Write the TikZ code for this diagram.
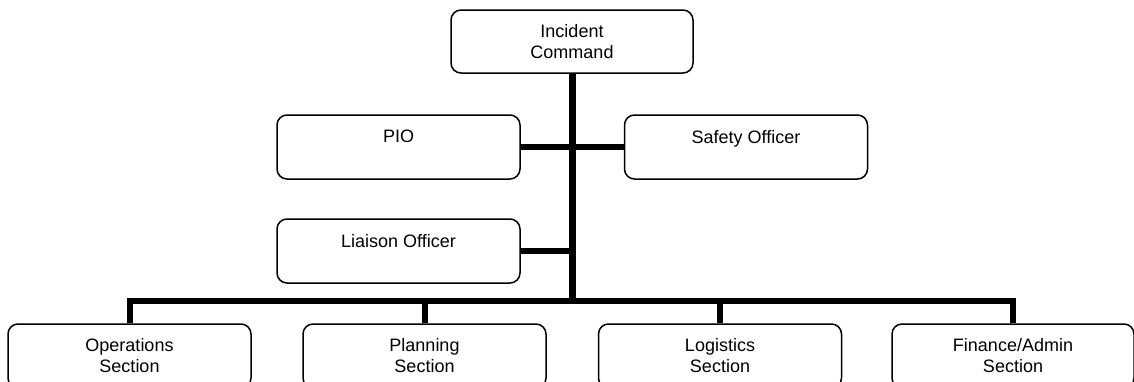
\documentclass[tikz,border=0pt]{standalone}
\usepackage{fontspec}
\setmainfont{Liberation Sans}
\begin{document}
\begin{tikzpicture}[x=1pt,y=-1pt,
  box/.style={draw=black, line width=1.5pt, rounded corners=10pt, fill=white,
    minimum width=243pt, minimum height=64pt, inner sep=0pt, align=center,
    font=\fontsize{18}{21}\selectfont},
  trunk/.style={line width=7pt, line join=miter, line cap=butt},
  link/.style={line width=6pt, line join=miter, line cap=butt}]
\useasboundingbox (0,0) rectangle (1134,381);
\clip (0,0) rectangle (1134,381);
\fill[white] (0,0) rectangle (1134,381);
\coordinate (bar) at (572,301);
\coordinate (lj) at (572,251);
\node[box, minimum width=242pt, minimum height=63pt] (ic) at (572,41.5) {Incident\\Command};
\node[box] (pio) at (398.5,147) {PIO\\\mbox{}};
\node[box] (so) at (746,147) {Safety Officer\\\mbox{}};
\node[box] (lo) at (398.5,251) {Liaison Officer\\\mbox{}};
\node[box] (ops) at (129.5,356) {Operations\\Section};
\node[box] (pln) at (424.5,356) {Planning\\Section};
\node[box] (lgs) at (720,356) {Logistics\\Section};
\node[box, minimum width=242pt] (fin) at (1013,356) {Finance/Admin\\Section};
\draw[trunk] (ic.south) -- (bar);
\draw[link] (pio.east) -- (so.west);
\draw[link, line width=5.5pt] (lo.east) -- (lj);
\draw[link] (ops.north) |- (bar) -| (fin.north);
\draw[link] (pln.north) -- (pln.north |- bar);
\draw[link] (lgs.north) -- (lgs.north |- bar);
\end{tikzpicture}
\end{document}
